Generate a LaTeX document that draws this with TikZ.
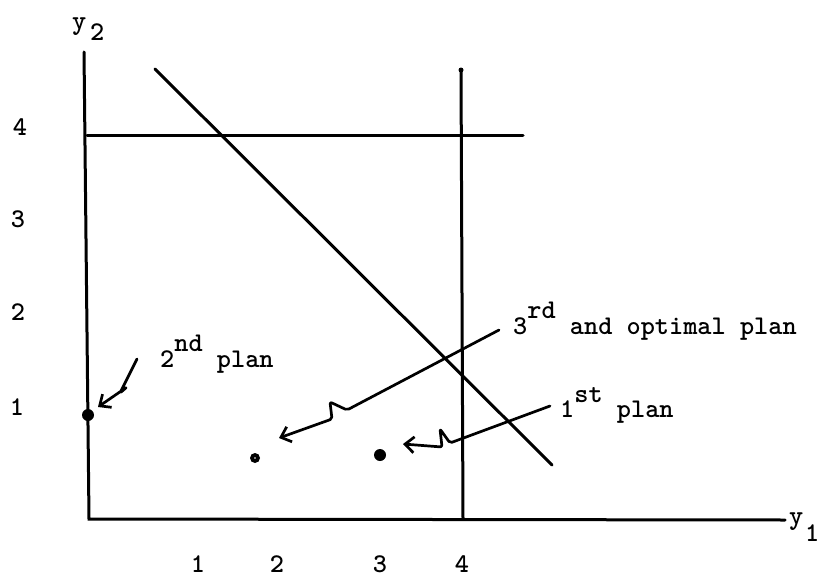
\documentclass[tikz,border=0pt]{standalone}
\usepackage{fontspec}
\usetikzlibrary{arrows.meta}
\newfontfamily\twfam{Latin Modern Mono Light}
\newcommand\twfont{\twfam\bfseries\fontsize{27}{32}\selectfont}
\begin{document}
\begin{tikzpicture}[x=1pt,y=-1pt,
  ln/.style={line width=3pt, line cap=round},
  arr/.style={line width=2.7pt, line cap=round, line join=round, rounded corners=2pt,
     -{Straight Barb[length=9pt,width=16pt,line width=2.7pt]}},
  lbl/.style={inner sep=0pt, anchor=base west, font=\twfont},
  tick/.style={inner sep=0pt, anchor=base, font=\twfont},
  dotb/.style={fill, circle, inner sep=0pt, minimum size=#1},
  dotb/.default=12pt]
\useasboundingbox (0,0) rectangle (832,578);

% axes
\coordinate (o) at (89,519);
\coordinate (ytop) at (84,52);
\coordinate (xend) at (785,520);
\draw[ln] (ytop) -- (o) -- (xend);

% constraint lines
\coordinate (h0) at (87,135);
\coordinate (h1) at (523,135);
\coordinate (v0) at (461,70);
\coordinate (v1) at (463,519);
\coordinate (d0) at (155,69);
\coordinate (d1) at (552,465);
\draw[ln] (h0) -- (h1);
\draw[ln] (v0) -- (v1);
\node[dotb=5pt] (vtop) at (v0) {};
\draw[ln] (d0) -- (d1);

% axis labels
\node[lbl] (y2a) at (72,30) {y};
\node[lbl] (y2b) at (90,41) {2};
\node[lbl] (y1a) at (789,524) {y};
\node[lbl] (y1b) at (805,541) {1};

% tick labels
\node[tick] (ty4) at (20,135) {4};
\node[tick] (ty3) at (18,227) {3};
\node[tick] (ty2) at (18,320) {2};
\node[tick] (ty1) at (17,415) {1};
\node[tick] (tx1) at (198,572) {1};
\node[tick] (tx2) at (277,572) {2};
\node[tick] (tx3) at (380,572) {3};
\node[tick] (tx4) at (462,572) {4};

% plans
\node[dotb=12pt] (p2) at (88,415) {};
\node[dotb=10pt] (p3) at (255,458) {};
\fill[white] (p3.center) circle (0.9pt);
\node[dotb=12pt] (p1) at (380,455) {};

% labels
\node[lbl] (l2) at (160,367) {2\raisebox{16pt}{nd} plan};
\node[lbl] (l3) at (513,334) {3\raisebox{16pt}{rd} and optimal plan};
\node[lbl] (l1) at (560,417) {1\raisebox{15pt}{st} plan};

% lightning arrows
\coordinate (s2) at (137,359);
\coordinate (k2a) at (120,393);
\coordinate (k2b) at (127,387);
\coordinate (t2) at (98,407);
\draw[arr] (s2) -- (k2a) -- (k2b) -- (t2);

\coordinate (s3) at (499,330);
\coordinate (k3a) at (347,410);
\coordinate (k3b) at (330,402);
\coordinate (k3c) at (332,419);
\coordinate (t3) at (279,438);
\draw[arr] (s3) -- (k3a) -- (k3b) -- (k3c) -- (t3);

\coordinate (s1) at (550,406);
\coordinate (k1a) at (450,443);
\coordinate (k1b) at (440,429);
\coordinate (k1c) at (442,447);
\coordinate (t1) at (403,444);
\draw[arr] (s1) -- (k1a) -- (k1b) -- (k1c) -- (t1);
\end{tikzpicture}
\end{document}
